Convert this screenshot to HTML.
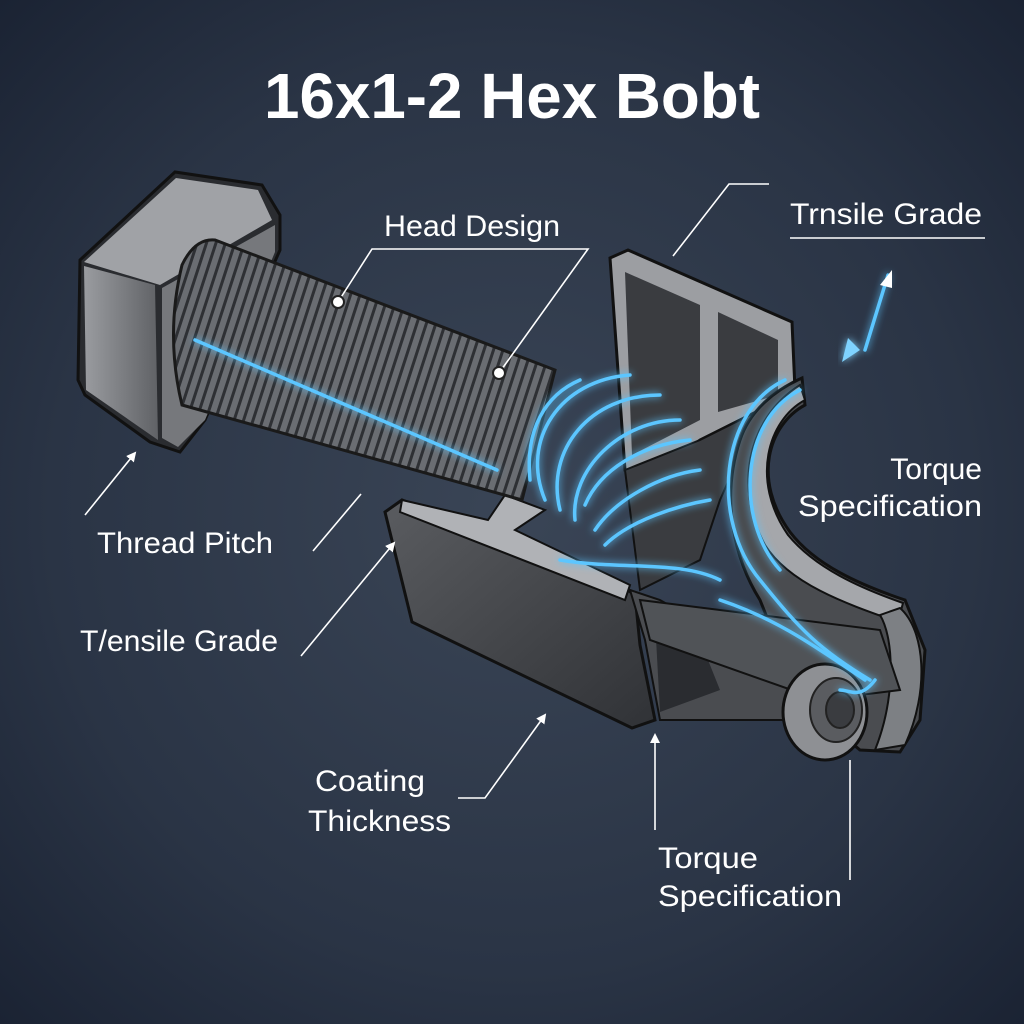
<!DOCTYPE html>
<html><head><meta charset="utf-8"><style>
html,body{margin:0;padding:0;width:1024px;height:1024px;overflow:hidden;background:#27303f}
svg{display:block}
text{font-family:"Liberation Sans",sans-serif;fill:#fff}
</style></head><body>
<svg width="1024" height="1024" viewBox="0 0 1024 1024" xmlns="http://www.w3.org/2000/svg">
<defs>
<radialGradient id="bg" cx="0.5" cy="0.5" r="0.75">
<stop offset="0" stop-color="#3a4556"/><stop offset="0.6" stop-color="#2a3445"/><stop offset="1" stop-color="#182030"/>
</radialGradient>
<linearGradient id="dark" x1="0" y1="0" x2="1" y2="1">
<stop offset="0" stop-color="#5a5c60"/><stop offset="1" stop-color="#303236"/>
</linearGradient>
<linearGradient id="head" x1="0" y1="0" x2="1" y2="0">
<stop offset="0" stop-color="#9a9ca0"/><stop offset="1" stop-color="#606266"/>
</linearGradient>
<pattern id="thr" width="9" height="9" patternUnits="userSpaceOnUse" patternTransform="rotate(18)">
<rect width="9" height="9" fill="#6a6d72"/><rect width="3" height="9" fill="#2e3034"/>
</pattern>
<filter id="glow" x="-20%" y="-20%" width="140%" height="140%"><feGaussianBlur stdDeviation="4" result="b"/><feMerge><feMergeNode in="b"/><feMergeNode in="SourceGraphic"/></feMerge></filter>
<marker id="ah" markerWidth="10" markerHeight="10" refX="8" refY="5" orient="auto" markerUnits="userSpaceOnUse"><path d="M0,0 L10,5 L0,10 z" fill="#fff"/></marker>
</defs>
<rect width="1024" height="1024" fill="url(#bg)"/>

<text x="512" y="118" text-anchor="middle" font-size="64" font-weight="bold" textLength="496" lengthAdjust="spacingAndGlyphs">16x1-2 Hex Bobt</text>

<!-- back plate -->
<path d="M610,258 L628,250 L792,322 L795,390 L760,410 L700,440 L660,470 L625,470 Z" fill="#9c9ea2" stroke="#111" stroke-width="3"/>
<path d="M625,272 L700,305 L700,420 L632,455 Z" fill="#3a3c40"/>
<path d="M718,312 L778,340 L778,395 L718,412 Z" fill="#3a3c40"/>
<path d="M625,470 L700,440 L760,410 L720,500 L700,560 L640,590 Z" fill="#3a3c40" stroke="#111" stroke-width="2"/>
<!-- C arm -->
<path d="M802,378 L805,405 C768,425 752,480 790,532 C815,565 860,585 905,600 L925,650 L920,720 L900,752 L860,750 L800,700 L760,600 C735,560 720,500 740,440 C750,410 775,390 802,378 Z" fill="#4a4c50" stroke="#111" stroke-width="3"/>
<path d="M805,400 C768,420 750,480 788,535 C815,568 860,588 903,603 L898,622 C850,605 790,585 765,545 C735,490 745,420 800,385 Z" fill="#a5a7ab" stroke="#111" stroke-width="2"/>
<path d="M900,608 C925,630 930,690 905,745 L875,750 C895,700 895,640 880,615 Z" fill="#7d8084" stroke="#111" stroke-width="2"/>

<!-- lower L plate -->
<path d="M385,512 L402,500 L620,585 L635,595 L640,645 L655,720 L632,728 L412,622 Z" fill="url(#dark)" stroke="#111" stroke-width="3"/>
<path d="M402,500 L488,520 L505,495 L545,510 L515,530 L630,585 L625,600 L400,512 Z" fill="#b0b2b6" stroke="#111" stroke-width="2"/>
<path d="M630,590 L660,600 L800,680 L800,720 L660,720 L645,640 Z" fill="#4a4c50" stroke="#111" stroke-width="2"/>
<path d="M655,620 L700,640 L720,690 L660,712 Z" fill="#2a2c30"/>
<path d="M640,600 L880,630 L900,690 L820,700 L650,640 Z" fill="#505357" stroke="#111" stroke-width="2"/>
<ellipse cx="825" cy="712" rx="42" ry="48" fill="#8e9094" stroke="#111" stroke-width="3"/>
<ellipse cx="836" cy="710" rx="26" ry="32" fill="#5a5c60" stroke="#222" stroke-width="2"/>
<ellipse cx="840" cy="710" rx="14" ry="18" fill="#3a3c40" stroke="#222" stroke-width="2"/>

<!-- head -->
<path d="M80,260 L175,172 L262,185 L280,215 L280,250 L205,420 L180,452 L150,442 L85,395 L78,380 Z" fill="#2a2c30" stroke="#111" stroke-width="3"/>
<path d="M84,262 L176,178 L258,190 L272,220 L160,285 Z" fill="#a0a2a6"/>
<path d="M84,266 L155,285 L158,440 L86,390 Z" fill="url(#head)"/>
<path d="M162,288 L275,225 L275,252 L205,420 L178,447 L162,438 Z" fill="#76787c"/>

<!-- thread cylinder -->
<path d="M182,265 Q195,238 215,240 L555,370 L522,500 L182,405 Q165,335 182,265 Z" fill="url(#thr)" stroke="#1a1a1a" stroke-width="3"/>

<!-- blue glow -->
<g fill="none" stroke="#5cc6ff" stroke-width="3.5" filter="url(#glow)" stroke-linecap="round">
<path d="M195,340 L497,470"/>
<path d="M545,500 C520,440 560,380 630,375"/>
<path d="M560,510 C545,450 590,395 660,395"/>
<path d="M575,520 C570,470 620,420 680,420"/>
<path d="M585,505 C600,470 640,445 690,440"/>
<path d="M595,530 C615,500 660,475 700,470"/>
<path d="M605,545 C630,520 680,505 710,500"/>
<path d="M530,480 C525,430 545,395 580,380"/>
<path d="M785,380 C720,410 710,520 760,580 C800,630 820,650 870,680"/>
<path d="M800,390 C740,420 735,520 780,570"/>
<path d="M560,560 C620,570 680,560 720,580"/>
<path d="M720,600 C780,620 820,650 865,680"/>
<path d="M875,680 C860,700 850,690 840,690"/>
<path d="M865,350 L888,275"/>
</g>
<path d="M842,362 L848,338 L860,350 Z" fill="#7fd3ff" filter="url(#glow)"/>
<path d="M892,270 L880,285 L892,288 Z" fill="#fff"/>

<!-- leader lines -->
<g stroke="#fff" stroke-width="1.6" fill="none">
<path d="M338,302 L372,249 L588,249 L499,373"/>
<path d="M673,256 L729,184 L769,184"/>
<path d="M790,238 L985,238"/>
<path d="M85,515 L135,453" marker-end="url(#ah)"/>
<path d="M313,551 L361,494"/>
<path d="M301,656 L394,543" marker-end="url(#ah)"/>
<path d="M458,798 L485,798 L545,715" marker-end="url(#ah)"/>
<path d="M655,830 L655,735" marker-end="url(#ah)"/>
<path d="M850,760 L850,880"/>
</g>
<circle cx="338" cy="302" r="6" fill="#fff" stroke="#222" stroke-width="2"/>
<circle cx="499" cy="373" r="6" fill="#fff" stroke="#222" stroke-width="2"/>

<!-- labels -->
<g font-size="30">
<text x="384" y="236" textLength="176" lengthAdjust="spacingAndGlyphs">Head Design</text>
<text x="790" y="224" textLength="192" lengthAdjust="spacingAndGlyphs">Trnsile Grade</text>
<text x="982" y="479" text-anchor="end">Torque</text>
<text x="982" y="516" text-anchor="end" textLength="184" lengthAdjust="spacingAndGlyphs">Specification</text>
<text x="97" y="553" textLength="176" lengthAdjust="spacingAndGlyphs">Thread Pitch</text>
<text x="80" y="651" textLength="198" lengthAdjust="spacingAndGlyphs">T/ensile Grade</text>
<text x="315" y="791" textLength="110" lengthAdjust="spacingAndGlyphs">Coating</text>
<text x="308" y="831" textLength="143" lengthAdjust="spacingAndGlyphs">Thickness</text>
<text x="658" y="868" textLength="100" lengthAdjust="spacingAndGlyphs">Torque</text>
<text x="658" y="906" textLength="184" lengthAdjust="spacingAndGlyphs">Specification</text>
</g>
</svg>
</body></html>
